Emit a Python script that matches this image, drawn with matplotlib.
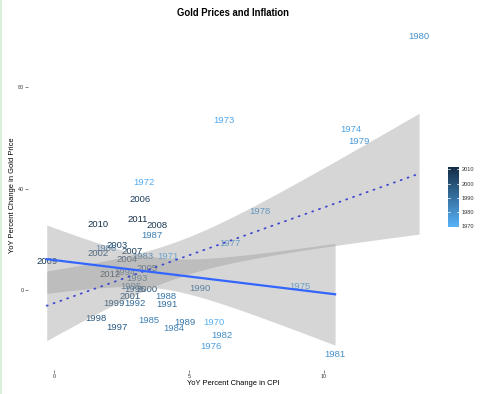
import matplotlib
matplotlib.use("Agg")
import matplotlib.pyplot as plt
import numpy as np
from matplotlib.colors import LinearSegmentedColormap, Normalize
from matplotlib.cm import ScalarMappable
from matplotlib.lines import Line2D

plt.rcParams["font.family"] = ["Liberation Sans", "DejaVu Sans"]

# values
years = np.arange(1970, 2013)
cpi = np.array([
    5.93, 4.21, 3.34, 6.31, 11.00, 9.11, 5.81, 6.52, 7.63, 11.31,  # 1970s
    13.52, 10.41, 6.23, 3.29, 4.42, 3.53, 1.93, 3.62, 4.14, 4.83,  # 1980s
    5.41, 4.17, 3.00, 3.06, 2.63, 2.85, 3.00, 2.32, 1.54, 2.22,  # 1990s
    3.43, 2.81, 1.62, 2.32, 2.69, 3.43, 3.19, 2.91, 3.81, -0.27,  # 2000s
    1.62, 3.10, 2.07,
])
gold = np.array([
    -12.7, 13.1, 42.5, 66.8, 63.5, 1.3, -22.4, 18.5, 30.9, 58.5,
    100.2, -25.3, -18.1, 13.1, -15.1, -12.1, 16.2, 21.3, -2.4, -12.7,
    0.5, -5.6, -5.2, 4.6, 6.8, 1.2, 0.2, -14.7, -11.2, -5.2,
    0.3, -2.6, 14.2, 17.4, 12.1, 8.6, 35.5, 15.1, 25.3, 11.4,
    26.0, 28.0, 6.3,
])
cbar_ticks = [1970, 1980, 1990, 2000, 2010]
# solid fit leaves out the years with very high inflation
cpi_cutoff = 10.5


def t975(df):
    # Cornish-Fisher approximation of the 97.5% t quantile
    z = 1.959964
    return (z + (z**3 + z) / (4 * df)
            + (5 * z**5 + 16 * z**3 + 3 * z) / (96 * df**2))


def lm_band(x, y, n_grid=80):
    """Linear fit with 95% confidence band, like geom_smooth(method=lm)."""
    n = len(x)
    slope, icpt = np.polyfit(x, y, 1)
    resid = y - (slope * x + icpt)
    s = np.sqrt(np.sum(resid**2) / (n - 2))
    xg = np.linspace(x.min(), x.max(), n_grid)
    fit = slope * xg + icpt
    se = s * np.sqrt(1 / n + (xg - x.mean())**2 / np.sum((x - x.mean())**2))
    half = t975(n - 2) * se
    return xg, fit, fit - half, fit + half


W, H = 495, 394
fig = plt.figure(figsize=(W / 100, H / 100), dpi=100)
ax = fig.add_axes([28.1 / W, 1 - 370 / H, (437.7 - 28.1) / W, (370 - 20.1) / H])
for sp in ax.spines.values():
    sp.set_visible(False)

cmap = LinearSegmentedColormap.from_list("yr", ["#56B1F7", "#132B43"])
norm = Normalize(vmin=years.min(), vmax=years.max())

for yr, xv, yv in zip(years, cpi, gold):
    ax.text(xv, yv, str(yr), color=cmap(norm(yr)), fontsize=6.8,
            ha="center", va="center", zorder=2)

# fit on all years (dotted) and on the moderate-inflation years (solid)
xa, fa, la, ua = lm_band(cpi, gold)
keep = cpi <= cpi_cutoff
xb, fb, lb, ub = lm_band(cpi[keep], gold[keep])

ax.fill_between(xa, la, ua, color="#999999", alpha=0.4, lw=0, zorder=3)
ax.fill_between(xb, lb, ub, color="#999999", alpha=0.4, lw=0, zorder=3)
ax.plot(xa, fa, color="#4048d0", lw=1.3, ls=(0, (0.6, 3.4)),
        dash_capstyle="round", zorder=4)
ax.plot(xb, fb, color="#3366FF", lw=1.6, zorder=4)

# ggplot style 5% expansion
xr = cpi.max() - cpi.min()
yr_ = gold.max() - gold.min()
ax.set_xlim(cpi.min() - 0.05 * xr, cpi.max() + 0.05 * xr)
ax.set_ylim(gold.min() - 0.05 * yr_, gold.max() + 0.05 * yr_)

ax.set_xticks([0, 5, 10])
ax.set_yticks([0, 40, 80])
ax.tick_params(axis="both", labelsize=3.9, length=2, width=0.5,
               color="#555555", labelcolor="#333333", pad=1)
ax.set_xlabel("YoY Percent Change in CPI", fontsize=5.4, labelpad=0.5)
ax.set_ylabel("YoY Percent Change in Gold Price", fontsize=5.4, labelpad=1)
ax.set_title("Gold Prices and Inflation", fontsize=6.85, fontweight="bold",
             pad=3)

# colour bar
cax = fig.add_axes([447.7 / W, 1 - 226.5 / H, 11.6 / W, 60 / H])
cb = fig.colorbar(ScalarMappable(norm=norm, cmap=cmap), cax=cax,
                  ticks=cbar_ticks)
cb.outline.set_visible(False)
cb.ax.tick_params(labelsize=4.1, length=0, pad=2, labelcolor="#333333")
for t in cbar_ticks:
    cax.plot([0, 0.2], [t, t], color="white", lw=0.5,
             transform=cax.get_yaxis_transform())
    cax.plot([0.8, 1], [t, t], color="white", lw=0.5,
             transform=cax.get_yaxis_transform())

# thin light green strip at the left edge
fig.add_artist(Line2D([0.002, 0.002], [0, 1], color="#d4efd4", lw=1.2,
                      transform=fig.transFigure))

fig.savefig("out.png", dpi=100)
